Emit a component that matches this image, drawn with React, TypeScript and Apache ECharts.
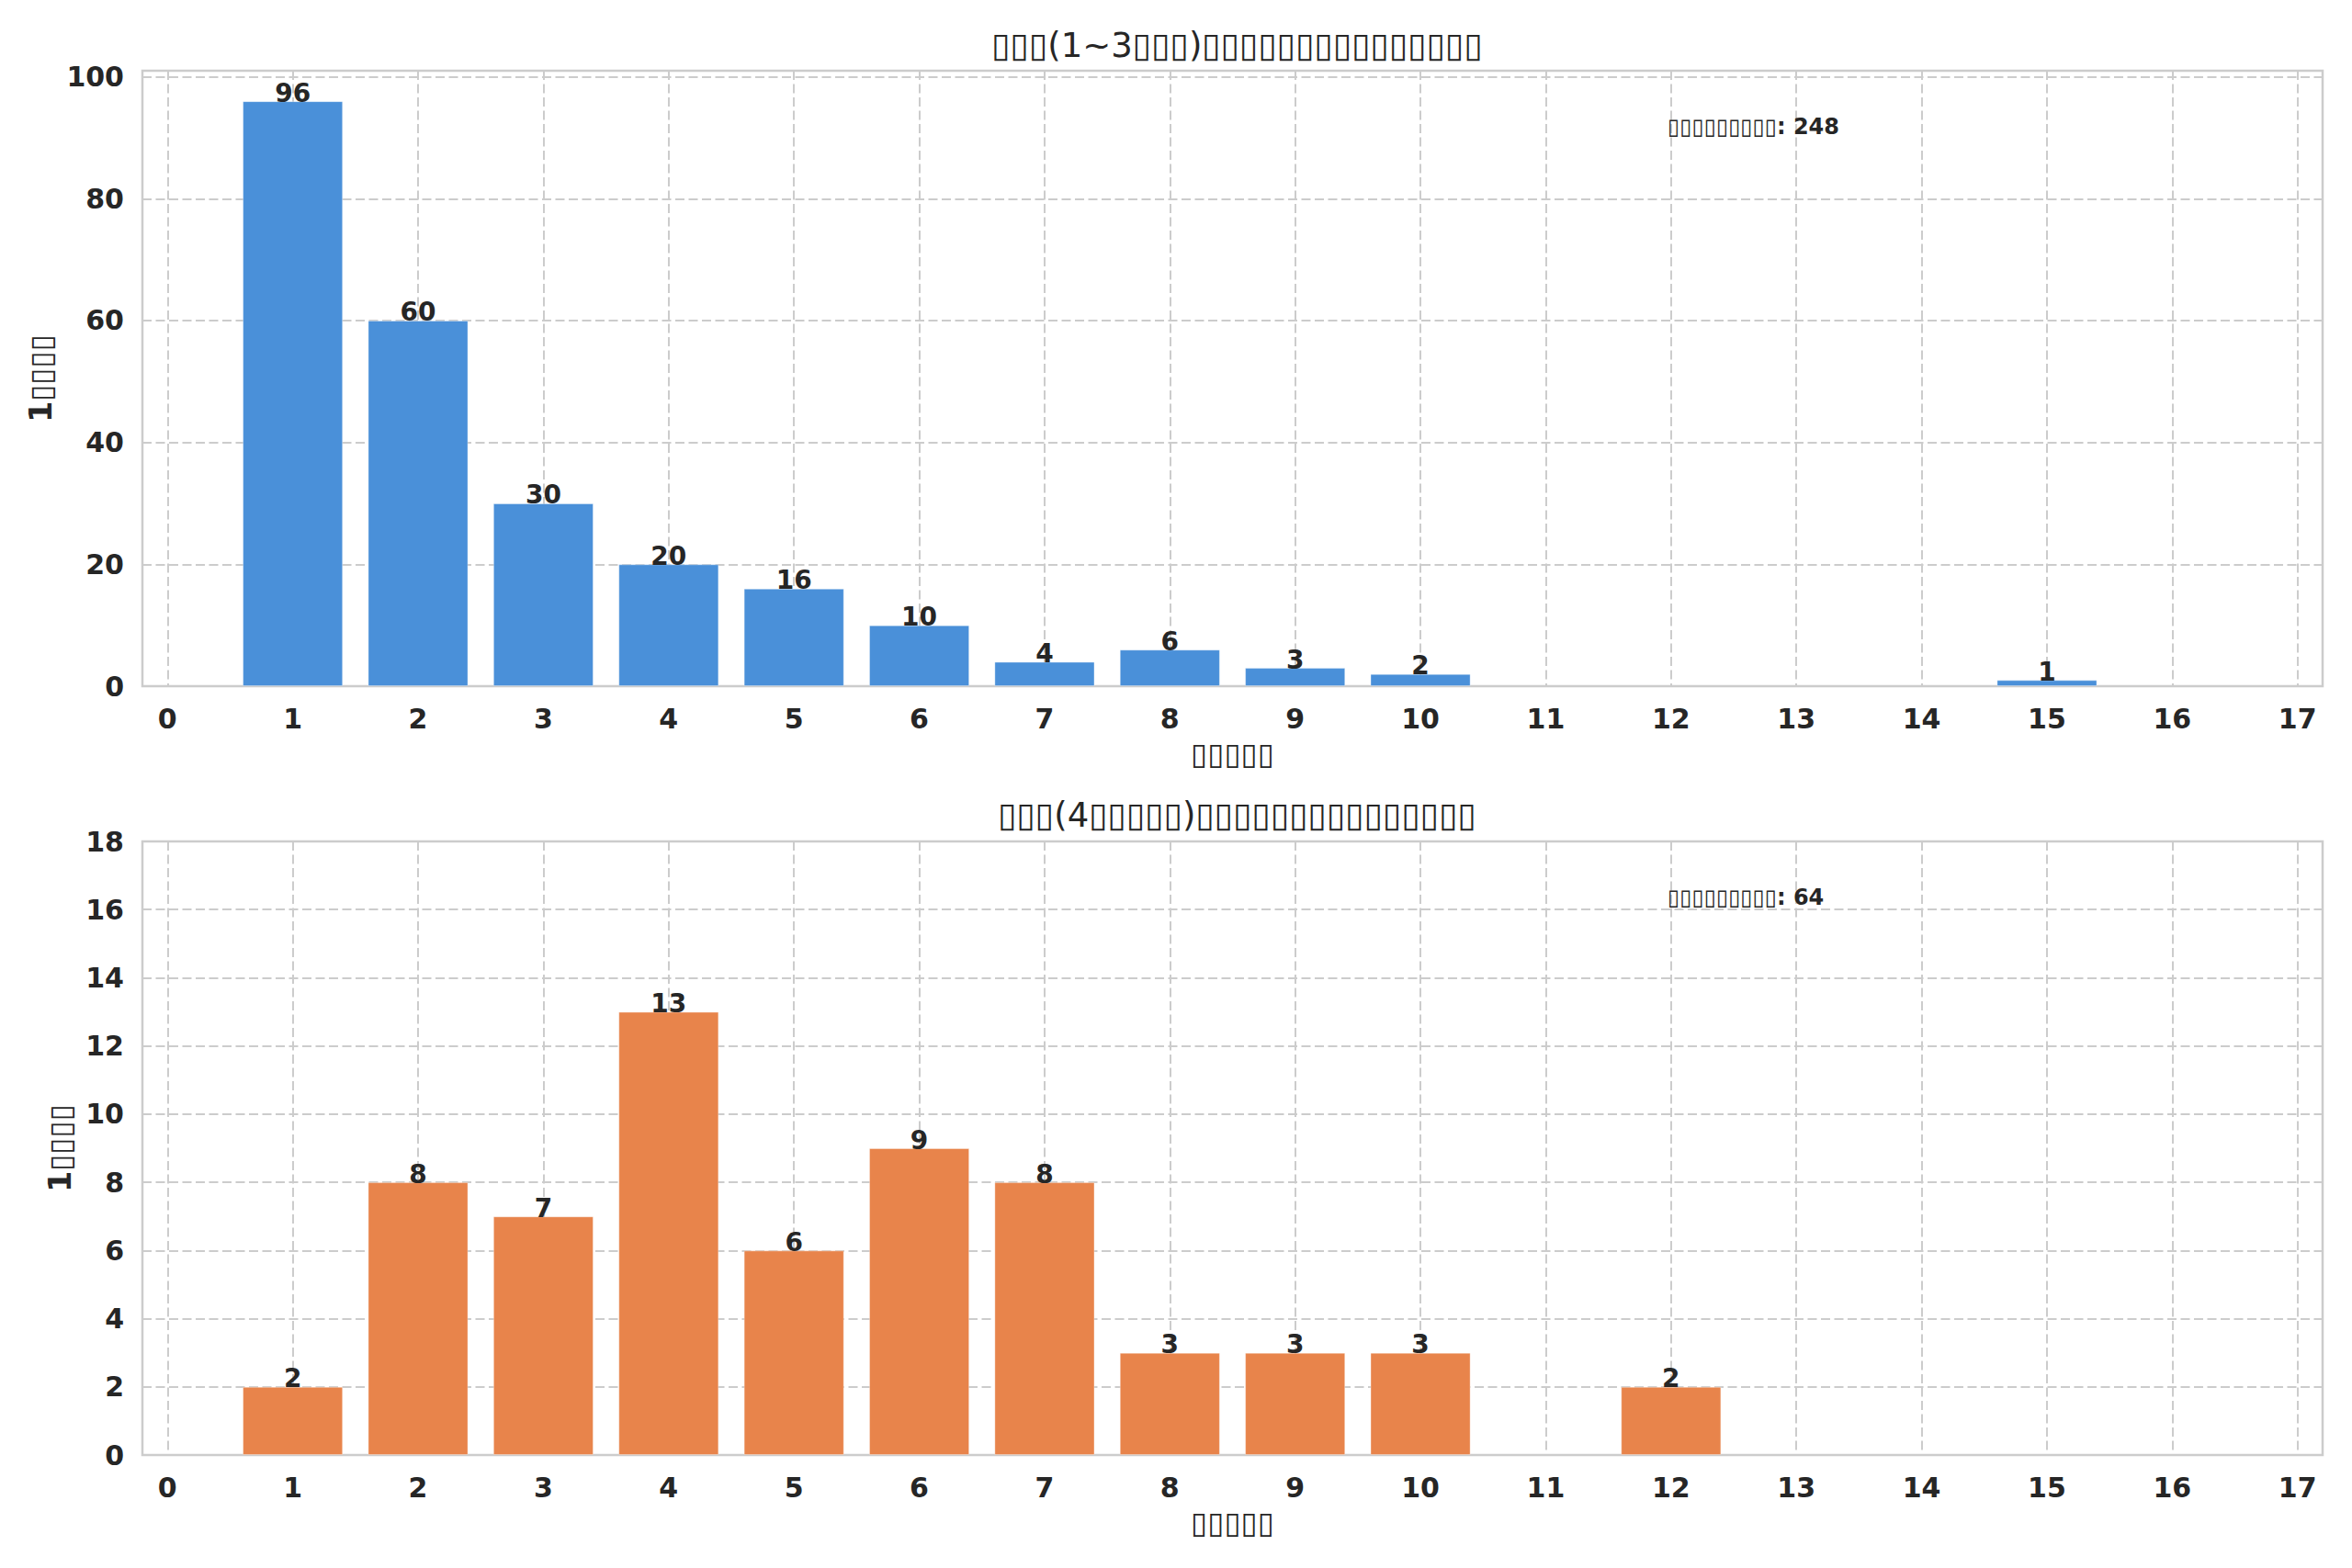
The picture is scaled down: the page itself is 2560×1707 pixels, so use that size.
import { useEffect, useRef } from 'react'
import * as echarts from 'echarts'

// x positions of the tick labels (0..17)
const levelTicks = [0, 1, 2, 3, 4, 5, 6, 7, 8, 9, 10, 11, 12, 13, 14, 15, 16, 17]

// upper chart: short group
const shortLevels = [1, 2, 3, 4, 5, 6, 7, 8, 9, 10, 15]
const shortCounts = [96, 60, 30, 20, 16, 10, 4, 6, 3, 2, 1]
const shortTotal = 248

// lower chart: long group
const longLevels = [1, 2, 3, 4, 5, 6, 7, 8, 9, 10, 12]
const longCounts = [2, 8, 7, 13, 6, 9, 8, 3, 3, 3, 2]
const longTotal = 64

// the source font had no glyphs, so the texts show as boxes
const shortTitle = '▯▯▯(1~3▯▯▯)▯▯▯▯▯▯▯▯▯▯▯▯▯▯▯'
const longTitle = '▯▯▯(4▯▯▯▯▯)▯▯▯▯▯▯▯▯▯▯▯▯▯▯▯'
const xName = '▯▯▯▯▯'
const yName = '1▯▯▯▯'
const noteName = '▯▯▯▯▯▯▯▯▯'

const FONT = '"DejaVu Sans", sans-serif'
const TEXT = '#262626'
const GRID_LINE = '#cccccc'

const X_MIN = -0.2
const X_MAX = 17.2
const PLOT_LEFT = 155
const PLOT_RIGHT = 2528

export default function App() {
  const chartRef = useRef<HTMLDivElement>(null)

  useEffect(() => {
    if (!chartRef.current) return
    document.body.style.margin = '0'
    const chart = echarts.init(chartRef.current, null, { renderer: 'svg' })

    const plotW = PLOT_RIGHT - PLOT_LEFT
    const unit = plotW / (X_MAX - X_MIN)
    const tickLeft = PLOT_LEFT + (levelTicks[0] - X_MIN) * unit
    const tickW = (levelTicks[levelTicks.length - 1] - levelTicks[0]) * unit

    const panels = [
      { top: 77, height: 670, yMax: 101, step: 20, levels: shortLevels, counts: shortCounts, color: '#4a90d9', title: shortTitle, titleTop: 27, total: shortTotal, nameGap: 90 },
      { top: 916, height: 668, yMax: 18, step: 2, levels: longLevels, counts: longCounts, color: '#e8844b', title: longTitle, titleTop: 865, total: longTotal, nameGap: 72 },
    ]

    const grid: any[] = []
    const xAxis: any[] = []
    const yAxis: any[] = []
    const series: any[] = []
    const title: any[] = []

    panels.forEach((p, i) => {
      const a = i * 2
      const b = i * 2 + 1
      // frame + bars
      grid.push({
        left: PLOT_LEFT, width: plotW, top: p.top, height: p.height,
        show: true, borderColor: GRID_LINE, borderWidth: 2.5, backgroundColor: 'transparent',
      })
      // ticks at whole levels
      grid.push({ left: tickLeft, width: tickW, top: p.top, height: p.height })

      xAxis.push({
        type: 'value', gridIndex: a, min: X_MIN, max: X_MAX,
        axisLine: { show: false }, axisTick: { show: false }, axisLabel: { show: false }, splitLine: { show: false },
      })
      xAxis.push({
        type: 'value', gridIndex: b, min: 0, max: 17, interval: 1,
        name: xName, nameLocation: 'middle', nameGap: 57,
        nameTextStyle: { fontFamily: FONT, fontSize: 33, fontWeight: 'bold', color: TEXT },
        axisLine: { show: false }, axisTick: { show: false },
        axisLabel: { fontFamily: FONT, fontSize: 30, fontWeight: 'bold', color: TEXT, margin: 20 },
        splitLine: { show: true, lineStyle: { color: GRID_LINE, width: 2, type: [10, 4.5] } },
      })
      yAxis.push({
        type: 'value', gridIndex: a, min: 0, max: p.yMax, interval: p.step,
        name: yName, nameLocation: 'middle', nameGap: p.nameGap,
        nameTextStyle: { fontFamily: FONT, fontSize: 33, fontWeight: 'bold', color: TEXT },
        axisLine: { show: false }, axisTick: { show: false },
        axisLabel: {
          fontFamily: FONT, fontSize: 30, fontWeight: 'bold', color: TEXT, margin: 20,
          formatter: (v: number) => (v % p.step === 0 ? String(v) : ''),
        },
        splitLine: { show: true, lineStyle: { color: GRID_LINE, width: 2, type: [10, 4.5] } },
      })
      yAxis.push({ type: 'value', gridIndex: b, min: 0, max: 1, show: false })

      series.push({
        type: 'bar',
        xAxisIndex: a, yAxisIndex: a,
        barWidth: '80%',
        data: p.levels.map((lv, k) => [lv, p.counts[k]]),
        itemStyle: { color: p.color, borderColor: 'rgba(255,255,255,0.35)', borderWidth: 1 },
        label: {
          show: true, position: 'top', distance: -5,
          fontFamily: FONT, fontSize: 28, fontWeight: 'bold', color: TEXT,
          formatter: (d: any) => String(d.value[1]),
        },
      })

      title.push({
        text: p.title, left: PLOT_LEFT + plotW / 2, top: p.titleTop - 1, textAlign: 'center',
        textStyle: { fontFamily: FONT, fontSize: 37, fontWeight: 'normal', color: TEXT },
      })
      title.push({
        text: `${noteName}: ${p.total}`, left: PLOT_LEFT + plotW * 0.7 - 6, top: p.top + 44,
        textStyle: { fontFamily: FONT, fontSize: 24, fontWeight: 'bold', color: TEXT },
      })
    })

    chart.setOption({
      animation: false,
      backgroundColor: '#ffffff',
      title,
      grid,
      xAxis,
      yAxis,
      series,
    })

    return () => {
      chart.dispose()
    }
  }, [])

  return <div ref={chartRef} style={{ width: '2560px', height: '1707px' }}></div>
}
